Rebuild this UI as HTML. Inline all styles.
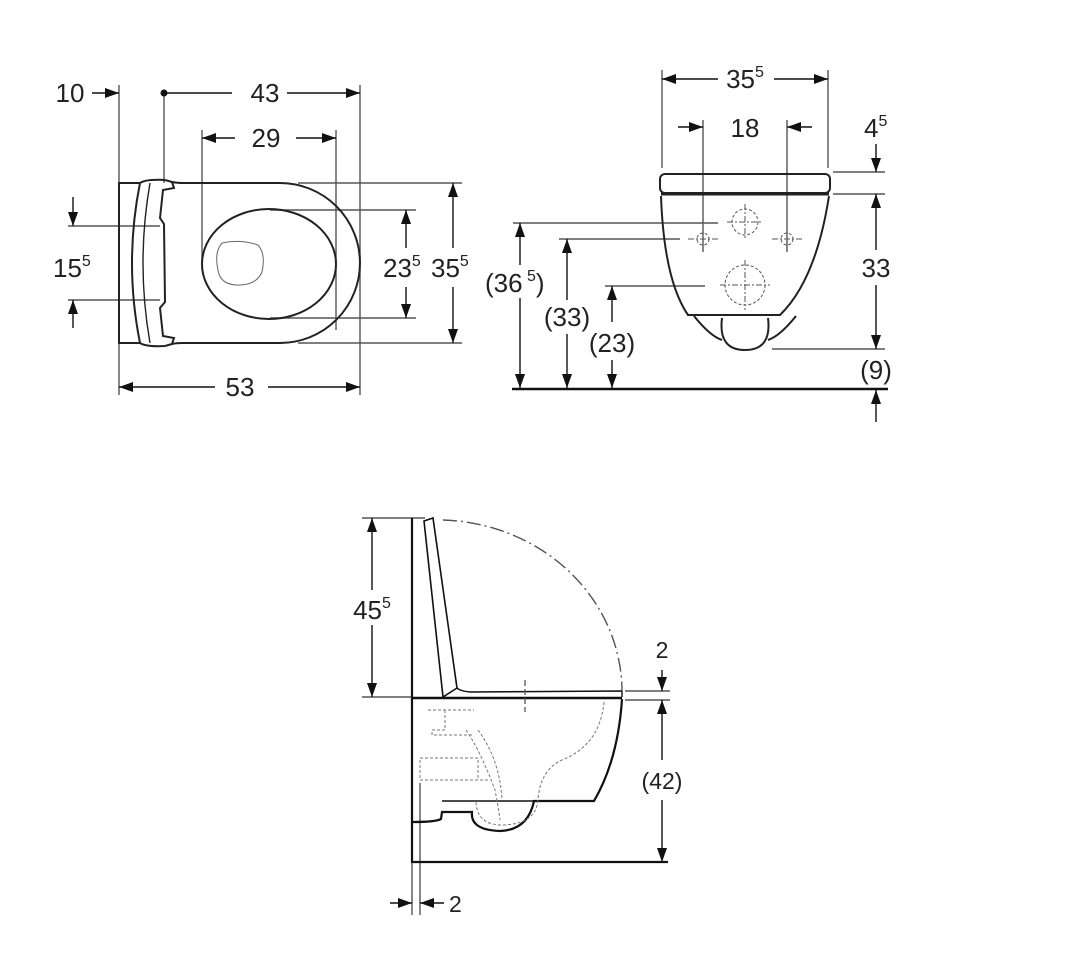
<!DOCTYPE html>
<html><head><meta charset="utf-8"><style>
html,body{margin:0;padding:0;background:#fff}
svg{display:block}
text{font-family:"Liberation Sans",sans-serif;font-size:26px;fill:#222}
.s{font-size:16px}
</style></head><body>
<svg width="1080" height="972" viewBox="0 0 1080 972" xmlns="http://www.w3.org/2000/svg">
<defs>
<marker id="a" viewBox="0 0 14 10" refX="14" refY="5" markerWidth="14" markerHeight="10" markerUnits="userSpaceOnUse" orient="auto"><path d="M0,0 L14,5 L0,10z" fill="#111"/></marker>
</defs>
<g stroke="#555" stroke-width="1.4" fill="none">
<line x1="119" y1="85" x2="119" y2="395"/>
<line x1="164" y1="93" x2="164" y2="183"/>
<line x1="360" y1="85" x2="360" y2="395"/>
<line x1="202" y1="130" x2="202" y2="270"/>
<line x1="336" y1="130" x2="336" y2="330"/>
<line x1="298" y1="183" x2="462" y2="183"/>
<line x1="298" y1="343" x2="462" y2="343"/>
<line x1="270" y1="210" x2="416" y2="210"/>
<line x1="270" y1="318" x2="416" y2="318"/>
<line x1="68" y1="226" x2="160" y2="226"/>
<line x1="68" y1="300" x2="160" y2="300"/>
</g>
<g stroke="#111" stroke-width="1.4" fill="none">
<line x1="92" y1="93" x2="119" y2="93" marker-end="url(#a)"/>
<line x1="164" y1="93" x2="232" y2="93"/>
<line x1="287" y1="93" x2="360" y2="93" marker-end="url(#a)"/>
<line x1="235" y1="138" x2="202" y2="138" marker-end="url(#a)"/>
<line x1="296" y1="138" x2="336" y2="138" marker-end="url(#a)"/>
<line x1="406" y1="248" x2="406" y2="210" marker-end="url(#a)"/>
<line x1="406" y1="287" x2="406" y2="318" marker-end="url(#a)"/>
<line x1="453" y1="248" x2="453" y2="183" marker-end="url(#a)"/>
<line x1="453" y1="287" x2="453" y2="343" marker-end="url(#a)"/>
<line x1="73" y1="197" x2="73" y2="226" marker-end="url(#a)"/>
<line x1="73" y1="328" x2="73" y2="300" marker-end="url(#a)"/>
<line x1="215" y1="387" x2="119" y2="387" marker-end="url(#a)"/>
<line x1="268" y1="387" x2="360" y2="387" marker-end="url(#a)"/>
</g>
<circle cx="164" cy="93" r="3.5" fill="#111"/>
<g stroke="#222" stroke-width="2" fill="none">
<path d="M140,183 L119,183 L119,343 L140,343"/>
<path d="M140,183 Q146,179 165,180 L172,182 L174,188 L163,190 L160,218 L164,224 L165,302 L160,308 L163,336 L174,338 L172,344 L165,346 Q146,347 140,343 Q124,263 140,183z"/>
<path d="M150,183 Q136,263 150,343" stroke-width="1.4"/>
<path d="M172,182 Q178,183 182,183 L280,183 A80,80 0 0 1 280,343 L182,343 Q176,343 172,344" />
<ellipse cx="269" cy="264" rx="67" ry="55"/>
<path d="M222,243 Q240,239 258,245 Q266,254 262,272 Q256,286 236,285 Q220,284 218,270 Q214,252 222,243z" stroke-width="1" stroke="#666"/>
</g>
<text x="70" y="102" text-anchor="middle">10</text>
<text x="265" y="102" text-anchor="middle">43</text>
<text x="266" y="147" text-anchor="middle">29</text>
<text x="240" y="396" text-anchor="middle">53</text>
<text x="53" y="277">15<tspan class="s" dy="-11">5</tspan></text>
<text x="383" y="277">23<tspan class="s" dy="-11">5</tspan></text>
<text x="431" y="277">35<tspan class="s" dy="-11">5</tspan></text>

<g stroke="#555" stroke-width="1.4" fill="none">
<line x1="662" y1="70" x2="662" y2="168"/>
<line x1="828" y1="70" x2="828" y2="168"/>
<line x1="703" y1="120" x2="703" y2="252"/>
<line x1="787" y1="120" x2="787" y2="252"/>
<line x1="833" y1="172" x2="885" y2="172"/>
<line x1="833" y1="194" x2="885" y2="194"/>
<line x1="772" y1="349" x2="885" y2="349"/>
<line x1="513" y1="223" x2="718" y2="223"/>
<line x1="559" y1="239" x2="680" y2="239"/>
<line x1="605" y1="286" x2="705" y2="286"/>
</g>
<g stroke="#111" stroke-width="1.4" fill="none">
<line x1="718" y1="79" x2="662" y2="79" marker-end="url(#a)"/>
<line x1="774" y1="79" x2="828" y2="79" marker-end="url(#a)"/>
<line x1="678" y1="127" x2="703" y2="127" marker-end="url(#a)"/>
<line x1="812" y1="127" x2="787" y2="127" marker-end="url(#a)"/>
<line x1="876" y1="144" x2="876" y2="172" marker-end="url(#a)"/>
<line x1="876" y1="250" x2="876" y2="194" marker-end="url(#a)"/>
<line x1="876" y1="285" x2="876" y2="349" marker-end="url(#a)"/>
<line x1="876" y1="422" x2="876" y2="390" marker-end="url(#a)"/>
<line x1="520" y1="265" x2="520" y2="223" marker-end="url(#a)"/>
<line x1="520" y1="298" x2="520" y2="388" marker-end="url(#a)"/>
<line x1="567" y1="300" x2="567" y2="239" marker-end="url(#a)"/>
<line x1="567" y1="334" x2="567" y2="388" marker-end="url(#a)"/>
<line x1="612" y1="322" x2="612" y2="286" marker-end="url(#a)"/>
<line x1="612" y1="360" x2="612" y2="388" marker-end="url(#a)"/>
</g>
<line x1="512" y1="389" x2="888" y2="389" stroke="#111" stroke-width="2.5"/>
<g stroke="#222" stroke-width="2" fill="none">
<rect x="660" y="174" width="170" height="19" rx="5"/>
<line x1="661" y1="194" x2="829" y2="194" stroke-width="3"/>
<path d="M661,196 Q664,280 688,315 L780,315 Q816,280 829,196"/>
<path d="M694,316 Q710,336 722,340 M796,316 Q780,336 768,340"/>
<path d="M722,318 Q718,350 745,350 Q772,350 768,318"/>
</g>
<g stroke="#555" stroke-width="1" fill="none" stroke-dasharray="3,2">
<circle cx="745" cy="222" r="13"/>
<circle cx="745" cy="285" r="20"/>
<circle cx="703" cy="239" r="6"/>
<circle cx="787" cy="239" r="6"/>
<path d="M727,222 H763 M745,204 V240 M720,285 H770 M745,260 V310 M688,239 H718 M703,225 V252 M772,239 H802 M787,225 V252" stroke-dasharray="6,2,2,2"/>
</g>
<text x="745" y="88" text-anchor="middle">35<tspan class="s" dy="-11">5</tspan></text>
<text x="745" y="137" text-anchor="middle">18</text>
<text x="864" y="137">4<tspan class="s" dy="-11">5</tspan></text>
<text x="876" y="277" text-anchor="middle">33</text>
<text x="876" y="379" text-anchor="middle">(9)</text>
<text x="485" y="292">(36<tspan class="s" dy="-11"> 5</tspan><tspan dy="11">)</tspan></text>
<text x="567" y="326" text-anchor="middle">(33)</text>
<text x="612" y="352" text-anchor="middle">(23)</text>

<g stroke="#555" stroke-width="1.4" fill="none">
<line x1="362" y1="518" x2="425" y2="518"/>
<line x1="362" y1="697" x2="412" y2="697"/>
<line x1="625" y1="691" x2="670" y2="691"/>
<line x1="625" y1="700" x2="670" y2="700"/>
<line x1="420" y1="783" x2="420" y2="915"/>
<line x1="412" y1="862" x2="412" y2="915"/>
</g>
<g stroke="#111" stroke-width="1.4" fill="none">
<line x1="372" y1="590" x2="372" y2="518" marker-end="url(#a)"/>
<line x1="372" y1="625" x2="372" y2="697" marker-end="url(#a)"/>
<line x1="662" y1="670" x2="662" y2="691" marker-end="url(#a)"/>
<line x1="662" y1="760" x2="662" y2="700" marker-end="url(#a)"/>
<line x1="662" y1="800" x2="662" y2="862" marker-end="url(#a)"/>
<line x1="390" y1="903" x2="412" y2="903" marker-end="url(#a)"/>
<line x1="444" y1="903" x2="420" y2="903" marker-end="url(#a)"/>
</g>
<g stroke="#111" stroke-width="2.2" fill="none">
<line x1="412" y1="518" x2="412" y2="863"/>
<line x1="411" y1="862" x2="668" y2="862"/>
<line x1="412" y1="698" x2="622" y2="698" stroke-width="2.5"/>
<path d="M424,521 L433,518 L457,688 L443,697 z" stroke-width="1.6"/>
<path d="M457,688 Q460,691 470,692 L622,691 L622,697" stroke-width="1.4"/>
<path d="M622,699 Q618,760 594,801 L534,801 Q528,830 500,831 Q470,830 472,812 L442,812 L441,819 Q436,822 412,822"/>
<path d="M442,801 L534,801" stroke-width="1.6"/>
<path d="M443,520 A185,172 0 0 1 622,690" stroke="#555" stroke-width="1.4" stroke-dasharray="14,4,2,4"/>
<line x1="525" y1="680" x2="525" y2="712" stroke="#555" stroke-width="1.3" stroke-dasharray="6,3"/>
</g>
<g stroke="#777" stroke-width="1" fill="none" stroke-dasharray="3,2">
<path d="M428,710 H474 M445,710 V730 H432 V735 H474 M466,730 Q480,750 495,790 Q498,805 500,820"/>
<path d="M478,730 Q500,760 502,800"/>
<path d="M420,758 H478 V780 H420 z M420,780 H488"/>
<path d="M604,702 Q600,745 562,760 Q540,770 538,800 Q536,825 500,825 Q476,824 476,800"/>
</g>
<text x="372" y="619" text-anchor="middle">45<tspan class="s" dy="-11">5</tspan></text>
<text x="662" y="658" text-anchor="middle" style="font-size:23px">2</text>
<text x="662" y="789" text-anchor="middle" style="font-size:23px">(42)</text>
<text x="449" y="912" style="font-size:23px">2</text>
</svg>
</body></html>
